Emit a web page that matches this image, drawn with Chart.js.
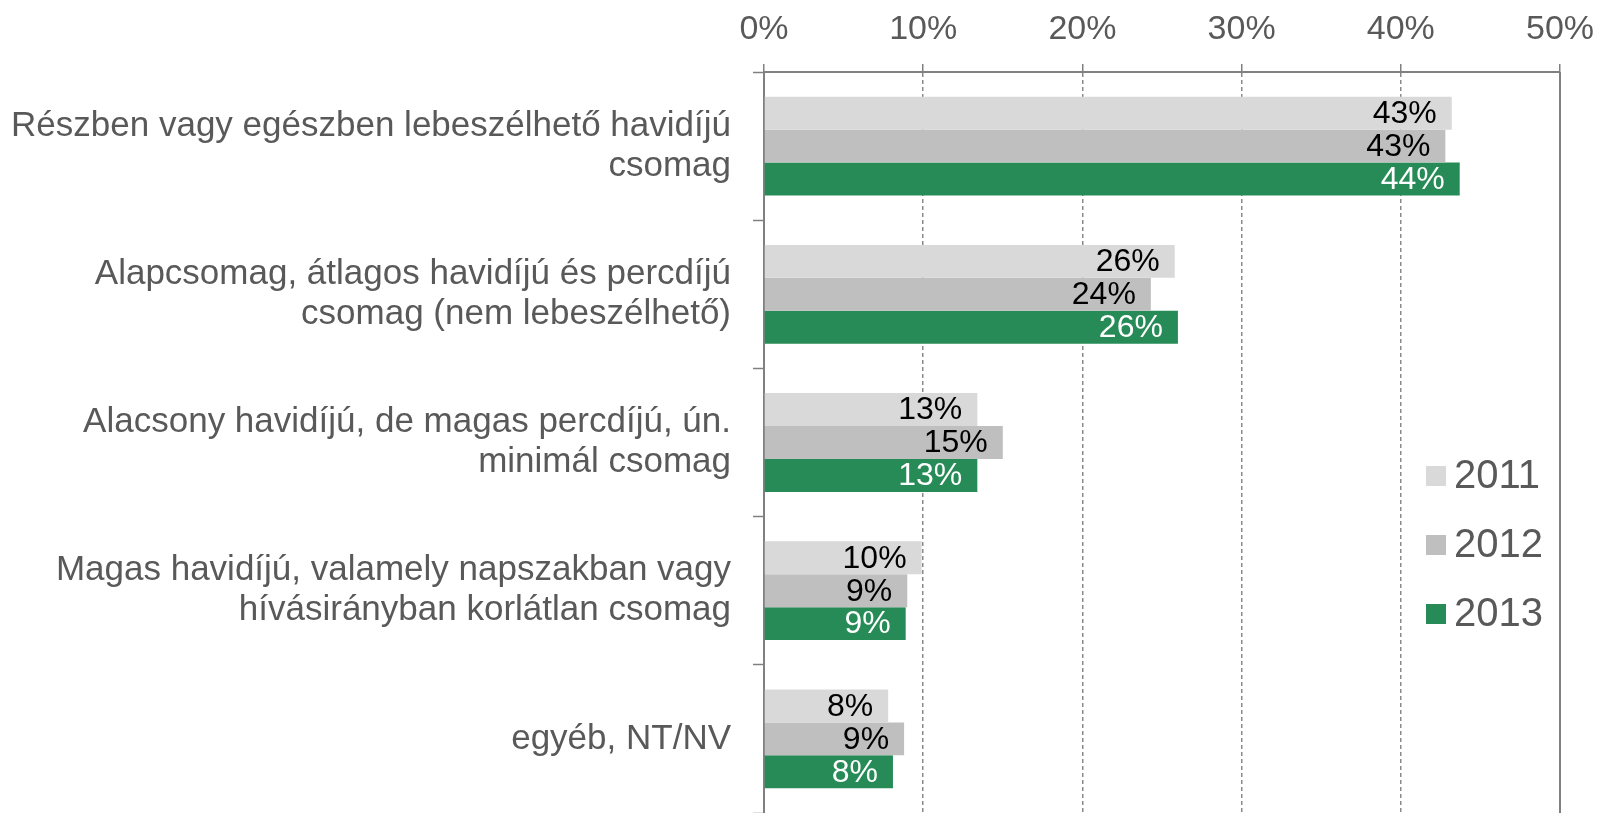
<!DOCTYPE html>
<html>
<head>
<meta charset="utf-8">
<script src="https://cdn.jsdelivr.net/npm/chart.js@4.4.1/dist/chart.umd.min.js"></script>
<style>
  html, body { margin: 0; padding: 0; background: #fff; }
  #wrap { width: 1601px; height: 813px; }
</style>
</head>
<body>
<div id="wrap"><canvas id="chart" width="1601" height="813"></canvas></div>
<script>
const categories = [
  ['Részben vagy egészben lebeszélhető havidíjú', 'csomag'],
  ['Alapcsomag, átlagos havidíjú és percdíjú', 'csomag (nem lebeszélhető)'],
  ['Alacsony havidíjú, de magas percdíjú, ún.', 'minimál csomag'],
  ['Magas havidíjú, valamely napszakban vagy', 'hívásirányban korlátlan csomag'],
  'egyéb, NT/NV',
];
const years = ['2011', '2012', '2013'];
const values2011 = [43.2, 25.8, 13.4, 9.9, 7.8];
const values2012 = [42.8, 24.3, 15.0, 9.0, 8.8];
const values2013 = [43.7, 26.0, 13.4, 8.9, 8.1];
const barColors = ['#d9d9d9', '#bfbfbf', '#268b57'];
const labelColors = ['#000000', '#000000', '#ffffff'];
const tickValues = [0, 10, 20, 30, 40, 50];

const FONT = "'Liberation Sans', Arimo, Arial, sans-serif";
const GREY_TEXT = '#595959';
const AXIS_GREY = '#808080';

const barLabels = {
  id: 'barLabels',
  afterDatasetsDraw(chart) {
    const { ctx } = chart;
    ctx.save();
    ctx.font = `32px ${FONT}`;
    ctx.textAlign = 'right';
    ctx.textBaseline = 'middle';
    chart.data.datasets.forEach((ds, i) => {
      const meta = chart.getDatasetMeta(i);
      meta.data.forEach((bar, j) => {
        ctx.fillStyle = labelColors[i];
        ctx.fillText(`${Math.round(ds.data[j])}%`, bar.x - 15, bar.y + 1);
      });
    });
    ctx.restore();
  },
};

const edgeLine = {
  id: 'edgeLine',
  afterDatasetsDraw(chart) {
    const { ctx, chartArea } = chart;
    const x = Math.round(chart.scales.x.getPixelForValue(50));
    ctx.save();
    ctx.strokeStyle = AXIS_GREY;
    ctx.lineWidth = 2;
    ctx.beginPath();
    ctx.moveTo(x, chartArea.top);
    ctx.lineTo(x, chartArea.bottom + 5);
    ctx.stroke();
    ctx.restore();
  },
};

const sideLegend = {
  id: 'sideLegend',
  afterDraw(chart) {
    const { ctx, chartArea } = chart;
    const left = chartArea.right - 134;
    const firstY = chartArea.top + 404;
    const gap = 69;
    ctx.save();
    ctx.font = `40px ${FONT}`;
    ctx.textAlign = 'left';
    ctx.textBaseline = 'middle';
    chart.data.datasets.forEach((ds, i) => {
      const y = firstY + i * gap;
      ctx.fillStyle = ds.backgroundColor;
      ctx.fillRect(left, y - 10, 20, 20);
      ctx.fillStyle = GREY_TEXT;
      ctx.fillText(ds.label, left + 28, y + 1);
    });
    ctx.restore();
  },
};

new Chart(document.getElementById('chart'), {
  type: 'bar',
  data: {
    labels: categories,
    datasets: [
      { label: years[0], data: values2011, backgroundColor: barColors[0] },
      { label: years[1], data: values2012, backgroundColor: barColors[1] },
      { label: years[2], data: values2013, backgroundColor: barColors[2] },
    ],
  },
  options: {
    indexAxis: 'y',
    responsive: false,
    animation: false,
    layout: { padding: { top: 0, right: 41, bottom: -3, left: 0 } },
    datasets: {
      bar: { categoryPercentage: 0.667, barPercentage: 1.0, borderWidth: 0 },
    },
    plugins: {
      legend: { display: false },
      tooltip: { enabled: false },
    },
    scales: {
      x: {
        position: 'top',
        min: 0,
        max: 50,
        afterBuildTicks: (scale) => {
          scale.ticks = tickValues.map((v) => ({ value: v }));
        },
        afterFit: (scale) => {
          scale.height = 72;
          scale.paddingLeft = 0;
          scale.paddingRight = 0;
        },
        ticks: {
          callback: (v) => `${v}%`,
          color: GREY_TEXT,
          font: { family: FONT, size: 34 },
          padding: 14,
          maxRotation: 0,
        },
        grid: {
          color: (c) => (c.tick && c.tick.value > 0 && c.tick.value < 50 ? '#8a8a8a' : 'rgba(0,0,0,0)'),
          lineWidth: 1.5,
          tickColor: AXIS_GREY,
          tickLength: 8,
          tickWidth: 1.5,
        },
        border: { display: true, color: AXIS_GREY, width: 2, dash: [4, 3] },
      },
      y: {
        afterFit: (scale) => {
          scale.width = 764;
          scale.paddingTop = 0;
          scale.paddingBottom = 0;
        },
        ticks: {
          color: GREY_TEXT,
          font: { family: FONT, size: 35, lineHeight: '40px' },
          padding: 22,
        },
        grid: {
          offset: true,
          drawOnChartArea: false,
          drawTicks: true,
          tickLength: 11,
          tickColor: AXIS_GREY,
          tickWidth: 1.5,
        },
        border: { display: true, color: AXIS_GREY, width: 2 },
      },
    },
  },
  plugins: [barLabels, edgeLine, sideLegend],
});
</script>
</body>
</html>
